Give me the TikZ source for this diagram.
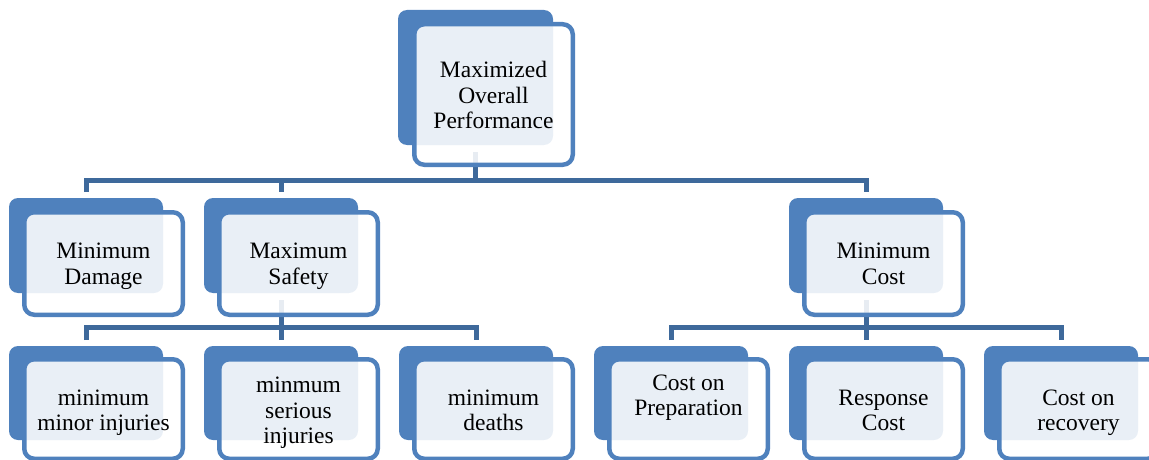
\documentclass[tikz,border=0pt]{standalone}
\usepackage{fontspec}
\setmainfont{Liberation Serif}
\usetikzlibrary{calc}
\definecolor{cardblue}{HTML}{4F81BD}
\definecolor{wireblue}{HTML}{3E699B}
\tikzset{
  backbox/.style={fill=cardblue, draw=none, rounded corners=9pt, anchor=north west,
    inner sep=0pt, outer sep=0pt, minimum width=154pt},
  frontbox/.style={draw=cardblue, line width=4.5pt, fill=white, fill opacity=0.88,
    rounded corners=10pt, anchor=north west, inner sep=0pt, outer sep=0pt,
    minimum width=158.5pt},
  lbl/.style={font=\fontsize{23.5}{25.5}\selectfont, align=center, text=black,
    inner sep=0pt},
  wire/.style={draw=wireblue, line width=5pt}
}
\begin{document}
\begin{tikzpicture}[x=1pt, y=-1pt]
\useasboundingbox (0,0) rectangle (1149,460);

% back plates
\node[backbox, minimum width=155pt, minimum height=135pt] (b0) at (398,10) {};
\node[backbox, minimum height=95pt] (b1) at (9,198) {};
\node[backbox, minimum height=95pt] (b2) at (204,198) {};
\node[backbox, minimum height=95pt] (b3) at (789,198) {};
\node[backbox, minimum height=94pt] (b4) at (9,346) {};
\node[backbox, minimum height=94pt] (b5) at (204,346) {};
\node[backbox, minimum height=94pt] (b6) at (399,346) {};
\node[backbox, minimum height=94pt] (b7) at (594,346) {};
\node[backbox, minimum height=94pt] (b8) at (789,346) {};
\node[backbox, minimum height=94pt] (b9) at (984,346) {};

% bus lines
\coordinate (bus1) at (476,180.5);
\coordinate (bus2) at (476,327.5);
\coordinate (bus3) at (866,327.5);

\draw[wire] ([yshift=-7pt]b0.south) -- (b0.south |- bus1);
\draw[wire] ([yshift=6pt]b1.north) |- (bus1) -| ([yshift=6pt]b3.north);
\draw[wire] (b2.north |- bus1) -- ([yshift=6pt]b2.north);

\draw[wire] ([yshift=-7pt]b2.south) -- (b2.south |- bus2);
\draw[wire] ([yshift=6pt]b4.north) |- (bus2) -| ([yshift=6pt]b6.north);
\draw[wire] (b5.north |- bus2) -- ([yshift=6pt]b5.north);

\draw[wire] ([yshift=-7pt]b3.south) -- (b3.south |- bus3);
\draw[wire] ([yshift=6pt]b7.north) |- (bus3) -| ([yshift=6pt]b9.north);
\draw[wire] (b8.north |- bus3) -- ([yshift=6pt]b8.north);

% front cards
\node[frontbox, minimum height=140.5pt] (f0) at (414.25,24.25) {};
\node[frontbox, minimum height=102.5pt] (f1) at (24.25,212.25) {};
\node[frontbox, minimum height=102.5pt] (f2) at (219.25,212.25) {};
\node[frontbox, minimum height=102.5pt] (f3) at (804.25,212.25) {};
\node[frontbox, minimum height=99.5pt] (f4) at (24.25,359.25) {};
\node[frontbox, minimum height=99.5pt] (f5) at (219.25,359.25) {};
\node[frontbox, minimum height=99.5pt] (f6) at (414.25,359.25) {};
\node[frontbox, minimum height=99.5pt] (f7) at (609.25,359.25) {};
\node[frontbox, minimum height=99.5pt] (f8) at (804.25,359.25) {};
\node[frontbox, minimum height=99.5pt] (f9) at (999.25,359.25) {};

% labels
\node[lbl] (t0) at ([yshift=-0.5pt]f0.center) {Maximized\\Overall\\Performance};
\node[lbl] (t1) at ([yshift=-3pt]f1.center) {Minimum\\Damage};
\node[lbl] (t2) at ([yshift=-3pt]f2.center) {Maximum\\Safety};
\node[lbl] (t3) at ([yshift=-0.5pt]f3.center) {Minimum\\Cost};
\node[lbl] (t4) at ([yshift=-3.5pt]f4.center) {minimum\\minor injuries};
\node[lbl] (t5) at ([yshift=-4pt]f5.center) {minmum\\serious\\injuries};
\node[lbl] (t6) at ([yshift=-1.5pt]f6.center) {minimum\\deaths};
\node[lbl] (t7) at ([yshift=11.5pt]f7.center) {Cost on\\Preparation};
\node[lbl] (t8) at ([yshift=-1.5pt]f8.center) {Response\\Cost};
\node[lbl] (t9) at ([yshift=-4pt]f9.center) {Cost on\\recovery};
\end{tikzpicture}
\end{document}
